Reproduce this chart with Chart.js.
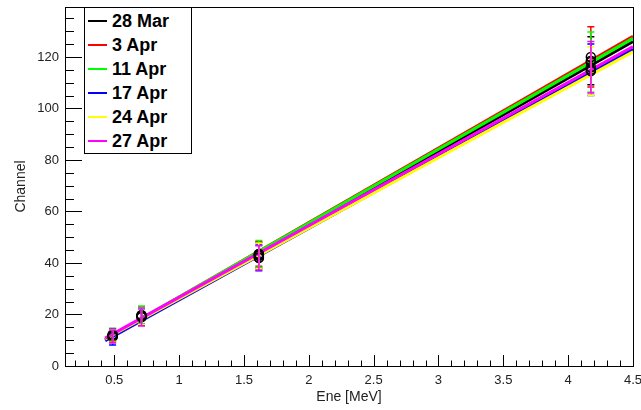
<!DOCTYPE html>
<html>
<head>
<meta charset="utf-8">
<script src="https://cdn.jsdelivr.net/npm/chart.js@4"></script>
<style>
  body { margin: 0; background: #fff; }
  #wrap { position: relative; width: 641px; height: 410px; }
  #legend {
    position: absolute; left: 84px; top: 7px; width: 108px; height: 147px;
    border: 1px solid #000; background: #fff; box-sizing: border-box;
    font: bold 18px "Liberation Sans", Arial, sans-serif; color: #000;
    padding-top: 1px;
  }
  .legend-item { display: flex; align-items: center; height: 24px; }
  .legend-line { display: block; flex: none; width: 19px; height: 2px; margin: 0 5px 0 3px; }
</style>
</head>
<body>
<div id="wrap">
  <canvas id="chart" width="641" height="410"></canvas>
  <div id="legend"></div>
</div>
<script>
'use strict';

const dates = ['28 Mar', '3 Apr', '11 Apr', '17 Apr', '24 Apr', '27 Apr'];
const energies = [0.487, 0.71, 1.615, 4.175];

// peak channel per date at each energy
const mar28Channel = [11.8, 19.6, 43.0, 118.5];
const apr3Channel = [12.2, 19.4, 43.5, 120.0];
const apr11Channel = [11.9, 19.8, 43.5, 118.0];
const apr17Channel = [11.3, 19.0, 42.0, 115.0];
const apr24Channel = [11.6, 19.3, 42.8, 114.5];
const apr27Channel = [11.5, 19.0, 42.0, 116.0];

const mar28Error = [2.8, 3.2, 5.0, 9.3];
const apr3Error = [2.3, 3.3, 4.8, 11.7];
const apr11Error = [2.5, 3.5, 5.2, 11.7];
const apr17Error = [3.1, 3.2, 5.0, 10.0];
const apr24Error = [2.6, 3.2, 5.0, 9.5];
const apr27Error = [2.5, 3.5, 4.7, 10.0];

// linear fit drawn between these energies
const fitRange = [0.43, 4.5];
const mar28Fit = [10.3, 126.0];
const apr3Fit = [10.3, 128.0];
const apr11Fit = [10.5, 127.2];
const apr17Fit = [9.8, 123.0];
const apr24Fit = [10.5, 122.0];
const apr27Fit = [10.8, 124.0];

const xTickValues = [0.5, 1, 1.5, 2, 2.5, 3, 3.5, 4, 4.5];
const yTickValues = [0, 20, 40, 60, 80, 100, 120];

const channels = [mar28Channel, apr3Channel, apr11Channel, apr17Channel, apr24Channel, apr27Channel];
const errors = [mar28Error, apr3Error, apr11Error, apr17Error, apr24Error, apr27Error];
const fits = [mar28Fit, apr3Fit, apr11Fit, apr17Fit, apr24Fit, apr27Fit];
const colors = ['#000000', '#ff0000', '#00ff00', '#0000ff', '#ffff00', '#ff00ff'];

const fontFamily = '"Liberation Sans", Arial, sans-serif';
const textColor = '#222';

const lineDatasets = dates.map((date, i) => ({
  type: 'line',
  label: date,
  data: fitRange.map((x, k) => ({ x, y: fits[i][k] })),
  borderColor: colors[i],
  borderWidth: 3,
  pointRadius: 0,
  fill: false,
  order: 20 - i,
}));

const pointDatasets = dates.map((date, i) => ({
  type: 'scatter',
  label: date + ' points',
  data: energies.map((x, k) => ({ x, y: channels[i][k] })),
  errors: errors[i],
  errorColor: colors[i],
  pointStyle: 'circle',
  pointRadius: 4.5,
  borderColor: '#000',
  backgroundColor: 'rgba(0,0,0,0)',
  borderWidth: 1.5,
  order: 10 - i,
}));

const errorBars = {
  id: 'errorBars',
  afterDatasetsDraw(chart) {
    const { ctx, chartArea: a, scales: { x, y } } = chart;
    ctx.save();
    ctx.beginPath();
    ctx.rect(a.left, a.top, a.right - a.left, a.bottom - a.top);
    ctx.clip();
    chart.data.datasets.forEach((ds) => {
      if (!ds.errors) return;
      ctx.strokeStyle = ds.errorColor;
      ctx.lineWidth = 1.5;
      ds.data.forEach((pt, k) => {
        const px = x.getPixelForValue(pt.x);
        const top = y.getPixelForValue(pt.y + ds.errors[k]);
        const bottom = y.getPixelForValue(pt.y - ds.errors[k]);
        ctx.beginPath();
        ctx.moveTo(px, top);
        ctx.lineTo(px, bottom);
        ctx.moveTo(px - 3.5, top);
        ctx.lineTo(px + 3.5, top);
        ctx.moveTo(px - 3.5, bottom);
        ctx.lineTo(px + 3.5, bottom);
        ctx.stroke();
      });
    });
    ctx.restore();
  },
};

const frameTicks = {
  id: 'frameTicks',
  afterDraw(chart) {
    const { ctx, chartArea: a, scales: { x, y } } = chart;
    ctx.save();
    ctx.strokeStyle = '#000';
    ctx.lineWidth = 1;
    ctx.beginPath();
    for (let v = 0.2; v <= x.max + 1e-6; v += 0.1) {
      const px = Math.round(x.getPixelForValue(v)) + 0.5;
      const major = Math.abs(v * 2 - Math.round(v * 2)) < 1e-6;
      ctx.moveTo(px, a.bottom);
      ctx.lineTo(px, a.bottom - (major ? 11 : 5.5));
    }
    for (let v = 0; v <= y.max; v += 5) {
      const py = Math.round(y.getPixelForValue(v)) + 0.5;
      ctx.moveTo(a.left, py);
      ctx.lineTo(a.left + (v % 20 === 0 ? 17 : 9), py);
    }
    ctx.stroke();
    ctx.strokeRect(Math.round(a.left) + 0.5, Math.round(a.top) + 0.5, Math.round(a.right - a.left), Math.round(a.bottom - a.top));
    ctx.restore();
  },
};

new Chart(document.getElementById('chart'), {
  data: { datasets: [...lineDatasets, ...pointDatasets] },
  options: {
    responsive: false,
    animation: false,
    layout: { padding: { top: 7, right: 8, left: 0, bottom: 0 } },
    plugins: { legend: { display: false }, tooltip: { enabled: false } },
    scales: {
      x: {
        type: 'linear',
        min: 0.12,
        max: 4.5,
        afterBuildTicks: (scale) => { scale.ticks = xTickValues.map((value) => ({ value })); },
        afterFit: (scale) => {
          scale.height = 44;
          scale.paddingLeft = 0;
          scale.paddingRight = 0;
        },
        grid: { display: false, drawTicks: false },
        border: { display: false },
        ticks: {
          padding: 7,
          color: textColor,
          font: { family: fontFamily, size: 13 },
          callback: (v) => String(v),
        },
        title: {
          display: true,
          text: 'Ene [MeV]',
          color: textColor,
          font: { family: fontFamily, size: 14 },
          padding: { top: 0, bottom: 4 },
        },
      },
      y: {
        type: 'linear',
        min: 0,
        max: 139.4,
        afterBuildTicks: (scale) => { scale.ticks = yTickValues.map((value) => ({ value })); },
        afterFit: (scale) => {
          scale.width = 65;
          scale.paddingTop = 0;
          scale.paddingBottom = 0;
        },
        grid: { display: false, drawTicks: false },
        border: { display: false },
        ticks: {
          padding: 6,
          color: textColor,
          font: { family: fontFamily, size: 13 },
        },
        title: {
          display: true,
          text: 'Channel',
          color: textColor,
          font: { family: fontFamily, size: 14 },
          padding: { top: 13, bottom: 0 },
        },
      },
    },
  },
  plugins: [errorBars, frameTicks],
});

const legendBox = document.getElementById('legend');
dates.forEach((date, i) => {
  const item = document.createElement('div');
  item.className = 'legend-item';
  const line = document.createElement('span');
  line.className = 'legend-line';
  line.style.backgroundColor = colors[i];
  const label = document.createElement('span');
  label.textContent = date;
  item.appendChild(line);
  item.appendChild(label);
  legendBox.appendChild(item);
});
</script>
</body>
</html>
